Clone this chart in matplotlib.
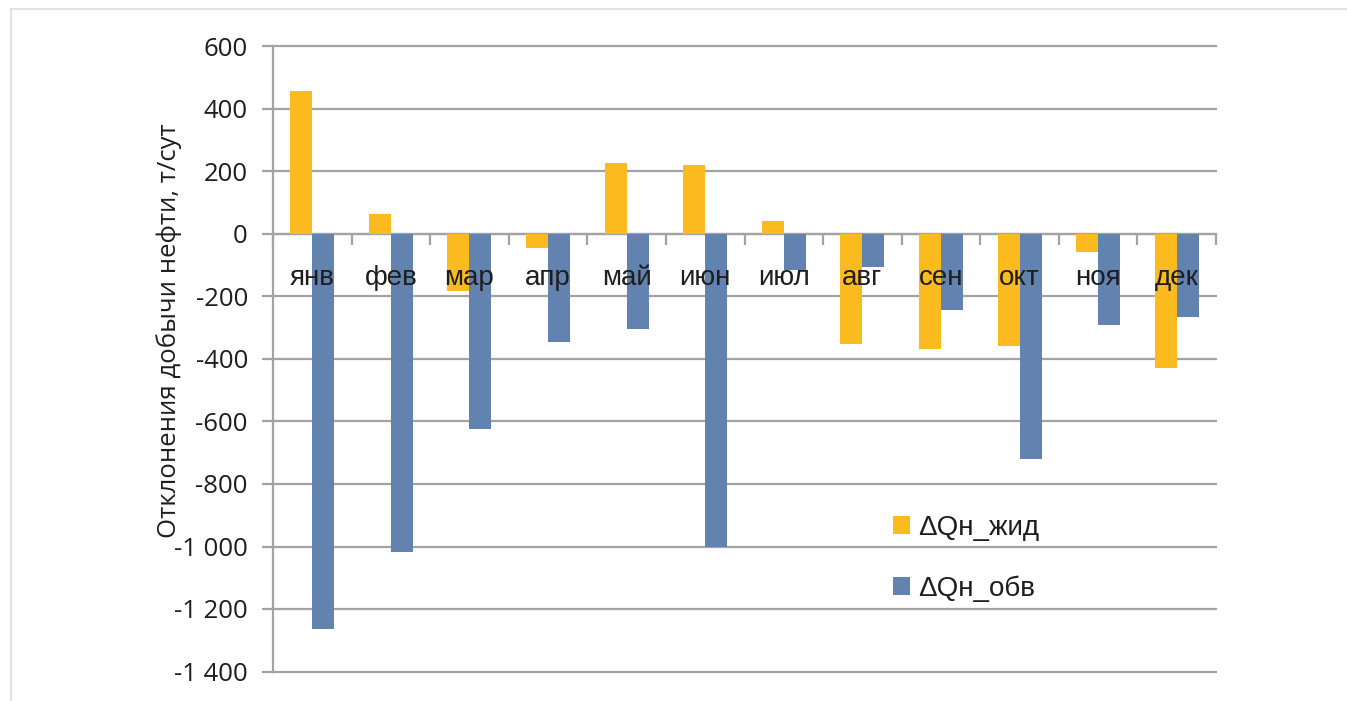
import matplotlib
matplotlib.use("Agg")
import matplotlib.pyplot as plt
from matplotlib.ticker import FixedLocator, FuncFormatter
from matplotlib.lines import Line2D
import numpy as np

months = ["янв", "фев", "мар", "апр", "май", "июн",
          "июл", "авг", "сен", "окт", "ноя", "дек"]
dq_liquid = [458, 63, -181, -44, 227, 221, 40, -352, -367, -357, -59, -430]
dq_watercut = [-1264, -1017, -624, -345, -305, -1000, -115, -105, -243, -721, -290, -267]
series_names = ["ΔQн_жид", "ΔQн_обв"]
y_ticks = list(range(-1400, 601, 200))
y_label = "Отклонения добычи нефти, т/сут"

YELLOW = "#FBBA1E"
BLUE = "#6282B0"
GRID = "#A3A3A3"
TEXT = "#1E1E1E"

W, H = 1347, 701
fig = plt.figure(figsize=(W / 100, H / 100), dpi=100)
ax = fig.add_axes([273 / W, 1 - 671.5 / H, (1216 - 273) / W, (671.5 - 46.5) / H])

x = np.arange(len(months))
bw = 0.28
b1 = ax.bar(x - bw / 2, dq_liquid, width=bw, color=YELLOW, zorder=3)
b2 = ax.bar(x + bw / 2, dq_watercut, width=bw, color=BLUE, zorder=3)

ax.set_xlim(-0.5, len(months) - 0.5)
ax.set_ylim(-1400, 600)

# horizontal gridlines, y axis on the left, category axis through zero
ax.yaxis.set_major_locator(FixedLocator(y_ticks))
ax.yaxis.set_major_formatter(FuncFormatter(
    lambda v, p: f"{int(v):,}".replace(",", " ")))
ax.grid(axis="y", color=GRID, linewidth=1.6, zorder=1)
ax.set_axisbelow(True)
for gl in ax.yaxis.get_gridlines():
    gl.set_clip_on(False)

for s in ("top", "right"):
    ax.spines[s].set_visible(False)
ax.spines["left"].set_color(GRID)
ax.spines["left"].set_linewidth(1.6)
ax.spines["bottom"].set_position(("data", 0))
ax.spines["bottom"].set_color(GRID)
ax.spines["bottom"].set_linewidth(1.6)
ax.spines["bottom"].set_zorder(2)

ax.tick_params(axis="y", length=8, width=1.6, color=GRID, pad=10,
               labelsize=18.5, labelcolor=TEXT)
for t in ax.get_yticklabels():
    t.set_family("Open Sans")

# boundary ticks between months
ax.set_xticks(np.arange(-0.5, len(months), 1.0))
ax.set_xticklabels([])
ax.tick_params(axis="x", which="major", direction="out", length=8,
               width=1.6, color=GRID)

# month names sit just below the zero line, drawn over the bars
for i, name in enumerate(months):
    ax.text(i, -141, name, ha="center", va="center", fontsize=20,
            family="Liberation Sans", color=TEXT, zorder=6)

ax.set_ylabel(y_label, fontsize=18.5, color=TEXT, family="Open Sans")
ax.yaxis.set_label_coords(-0.097, 0.545)

leg = ax.legend([b1, b2], series_names, loc="upper left",
                bbox_to_anchor=(879 / W, 1 - 501 / H),
                bbox_transform=fig.transFigure, frameon=False,
                prop={"family": "Liberation Sans", "size": 20},
                handlelength=0.6, handleheight=0.6, handletextpad=0.3,
                labelspacing=1.24, borderpad=0)
for t in leg.get_texts():
    t.set_color(TEXT)

# thin frame around the figure (left and top edges)
fig.add_artist(Line2D([11 / W, 11 / W], [0, 1 - 9 / H], transform=fig.transFigure,
                      color="#DDDDDD", linewidth=1.2))
fig.add_artist(Line2D([11 / W, 1], [1 - 9 / H, 1 - 9 / H], transform=fig.transFigure,
                      color="#DDDDDD", linewidth=1.2))

fig.savefig("out.png", dpi=100, facecolor="white")
